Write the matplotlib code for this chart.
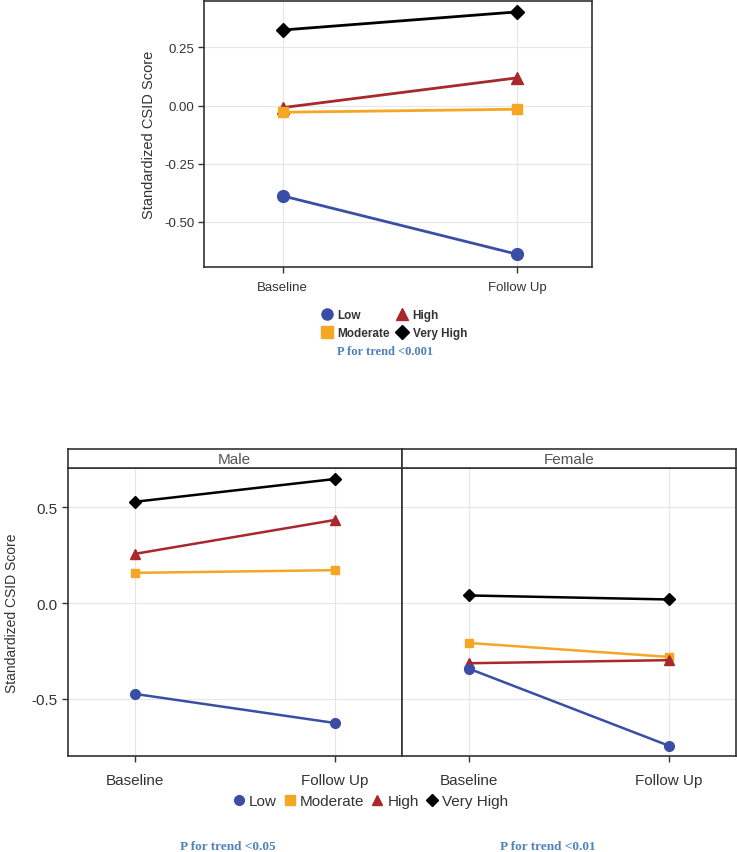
import matplotlib
matplotlib.use("Agg")
import matplotlib.pyplot as plt
from matplotlib.lines import Line2D

plt.rcParams['font.family'] = ['Liberation Sans', 'DejaVu Sans']

timepoints = ["Baseline", "Follow Up"]
groups = ["Low", "Moderate", "High", "Very High"]

# Overall
overall_low = [-0.389, -0.640]
overall_moderate = [-0.029, -0.016]
overall_high = [-0.009, 0.119]
overall_veryhigh = [0.325, 0.403]

# Male
male_low = [-0.474, -0.626]
male_moderate = [0.158, 0.172]
male_high = [0.257, 0.434]
male_veryhigh = [0.529, 0.648]

# Female
female_low = [-0.342, -0.745]
female_moderate = [-0.208, -0.281]
female_high = [-0.314, -0.298]
female_veryhigh = [0.040, 0.019]

top_yticks = [-0.50, -0.25, 0.00, 0.25]
top_yticklabels = ["-0.50", "-0.25", "0.00", "0.25"]
bot_yticks = [-0.5, 0.0, 0.5]
bot_yticklabels = ["-0.5", "0.0", "0.5"]
strip_labels = ["Male", "Female"]
ylabel = "Standardized CSID Score"
p_top = "P for trend <0.001"
p_male = "P for trend <0.05"
p_female = "P for trend <0.01"

colors = {"Low": "#3b4ea6", "Moderate": "#f5a623", "High": "#a8282c", "Very High": "#000000"}
markers = {"Low": "o", "Moderate": "s", "High": "^", "Very High": "D"}

W, H = 737, 853
fig = plt.figure(figsize=(W / 100, H / 100), dpi=100)

def fx(px):
    return px / W

def fy(py):
    return 1 - py / H

TXT = "#333333"
GRID = "#e6e6e6"
PCOL = "#4f81bd"

def style_axes(ax, yticks, yticklabels, xlim, ylim, fs):
    ax.set_xlim(*xlim)
    ax.set_ylim(*ylim)
    ax.set_xticks([0, 1])
    ax.set_xticklabels(timepoints, fontsize=fs, color=TXT)
    ax.set_yticks(yticks)
    ax.set_yticklabels(yticklabels, fontsize=fs, color=TXT)
    ax.grid(True, color=GRID, linewidth=0.8)
    ax.set_axisbelow(True)
    for s in ax.spines.values():
        s.set_color("#333333")
        s.set_linewidth(1.2)
    ax.tick_params(axis='both', length=4, width=1, color="#333333", pad=3)

def draw_series(ax, data, ms, lw):
    x = list(range(len(timepoints)))
    for g, vals in data:
        m = markers[g]
        size = ms
        if m == "s":
            size = ms * 0.9
        if m == "D":
            size = ms * 0.85
        ax.plot(x, vals, color=colors[g], marker=m, markersize=size, linewidth=lw,
                markeredgecolor=colors[g], zorder=3, clip_on=False)

# ---------------- Top panel ----------------
ax0 = fig.add_axes([fx(204), fy(268), fx(592) - fx(204), fy(1.5) - fy(268)])
style_axes(ax0, top_yticks, top_yticklabels, (-0.336, 1.32), (-0.695, 0.452), 9.5)
draw_series(ax0, [("Very High", overall_veryhigh), ("High", overall_high),
                  ("Moderate", overall_moderate), ("Low", overall_low)], 8.5, 2.0)
ax0.set_ylabel(ylabel, fontsize=10.5, color=TXT, labelpad=6)
ax0.tick_params(axis='x', pad=6)

handles = [Line2D([], [], linestyle='none', marker=markers[g], color=colors[g],
                  markersize=8 if markers[g] != "D" else 7, label=g) for g in groups]
leg0 = fig.legend(handles=handles, ncol=2, loc='center', bbox_to_anchor=(fx(394), fy(325)),
                  frameon=False, fontsize=8.5, handletextpad=0.4, columnspacing=0.5,
                  labelspacing=0.45, borderaxespad=0, handlelength=1.0)
for t in leg0.get_texts():
    t.set_fontweight('bold')
    t.set_color(TXT)

fig.text(fx(385), fy(352), p_top, ha='center', va='center', fontsize=9,
         fontweight='bold', color=PCOL, family=['Liberation Serif', 'DejaVu Serif'])

# ---------------- Bottom panels ----------------
bot_ylim = (-0.80, 0.704)
xl = (-0.335, 1.335)
axm = fig.add_axes([fx(67.7), fy(757.3), fx(401.7) - fx(67.7), fy(469.3) - fy(757.3)])
axf = fig.add_axes([fx(401.7), fy(757.3), fx(736) - fx(401.7), fy(469.3) - fy(757.3)], sharey=axm)

style_axes(axm, bot_yticks, bot_yticklabels, xl, bot_ylim, 11)
style_axes(axf, bot_yticks, bot_yticklabels, xl, bot_ylim, 11)
axf.tick_params(axis='y', left=False, labelleft=False)
axm.tick_params(axis='x', pad=8)
axf.tick_params(axis='x', pad=8)
for a in (axm, axf):
    a.set_ylim(*bot_ylim)

draw_series(axm, [("Very High", male_veryhigh), ("High", male_high),
                  ("Moderate", male_moderate), ("Low", male_low)], 7, 1.8)
draw_series(axf, [("Very High", female_veryhigh), ("Moderate", female_moderate),
                  ("High", female_high), ("Low", female_low)], 7, 1.8)
axm.set_ylabel(ylabel, fontsize=10, color=TXT, labelpad=9)

# strip headers
for (l, r), lab in zip([(67.7, 401.7), (401.7, 736)], strip_labels):
    sax = fig.add_axes([fx(l), fy(469.3), fx(r) - fx(l), fy(450) - fy(469.3)])
    sax.set_xticks([])
    sax.set_yticks([])
    for s in sax.spines.values():
        s.set_color("#333333")
        s.set_linewidth(1.2)
    sax.text(0.5, 0.5, lab, ha='center', va='center', fontsize=11, color="#555555",
             transform=sax.transAxes)

handles_b = [Line2D([], [], linestyle='none', marker=markers[g], color=colors[g],
                    markersize=7 if markers[g] != "D" else 6, label=g) for g in groups]
legb = fig.legend(handles=handles_b, ncol=4, loc='center', bbox_to_anchor=(fx(370), fy(802)),
                  frameon=False, fontsize=11, handletextpad=0.2, columnspacing=0.4,
                  borderaxespad=0, handlelength=0.9)
for t in legb.get_texts():
    t.set_color(TXT)

fig.text(fx(228), fy(847), p_male, ha='center', va='center', fontsize=9.5,
         fontweight='bold', color=PCOL, family=['Liberation Serif', 'DejaVu Serif'])
fig.text(fx(548), fy(847), p_female, ha='center', va='center', fontsize=9.5,
         fontweight='bold', color=PCOL, family=['Liberation Serif', 'DejaVu Serif'])

fig.savefig("out.png", dpi=100)
